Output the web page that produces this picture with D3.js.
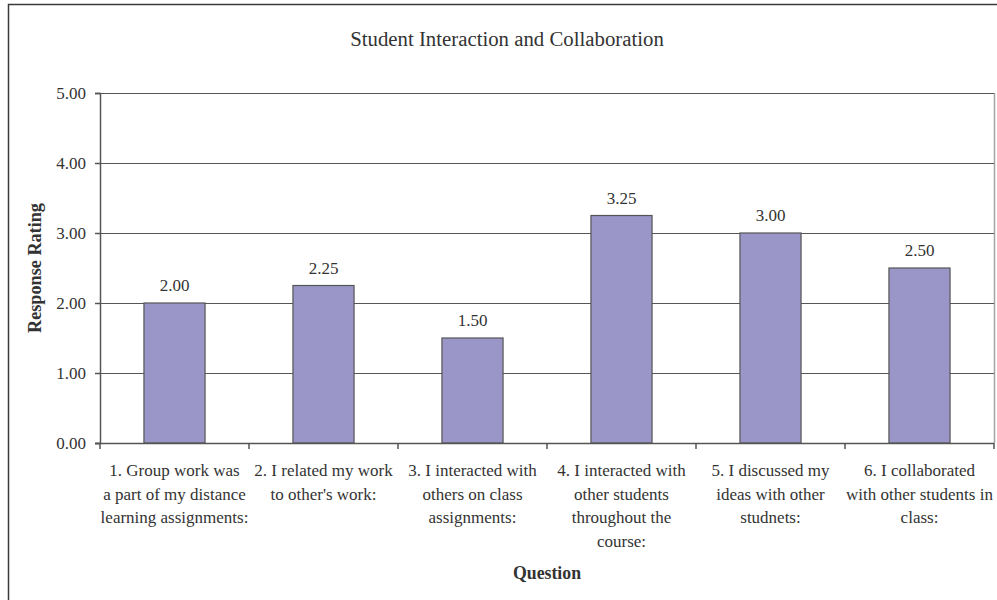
<!DOCTYPE html>
<html>
<head>
<meta charset="utf-8">
<script src="https://cdn.jsdelivr.net/npm/d3@7"></script>
<style>
  html, body { margin: 0; padding: 0; background: #fff; }
  svg { display: block; }
  text { font-family: "Liberation Serif", "Times New Roman", serif; fill: #333; }
</style>
</head>
<body>
<svg id="chart" width="997" height="600"></svg>
<script>
// Survey questions (line breaks as they wrap under the axis)
const categories = [
  "1. Group work was\na part of my distance\nlearning assignments:",
  "2. I related my work\nto other's work:",
  "3. I interacted with\nothers on class\nassignments:",
  "4. I interacted with\nother students\nthroughout the\ncourse:",
  "5. I discussed my\nideas with other\nstudnets:",
  "6. I collaborated\nwith other students in\nclass:"
];
const ratings = [2.00, 2.25, 1.50, 3.25, 3.00, 2.50];
const yTicks = [0, 1, 2, 3, 4, 5];

const title = "Student Interaction and Collaboration";
const yTitle = "Response Rating";
const xTitle = "Question";

const svg = d3.select("#chart");
const plot = { left: 100, top: 93, right: 994, bottom: 443 };

// Outer chart frame
svg.append("path")
  .attr("d", "M8.5,600 L8.5,4.5 L997,4.5")
  .attr("fill", "none").attr("stroke", "#3a3a3a").attr("stroke-width", 1.5);

const x = d3.scaleBand()
  .domain(categories)
  .range([plot.left, plot.right])
  .paddingInner(0.59).paddingOuter(0.295);

const y = d3.scaleLinear().domain([0, 5]).range([plot.bottom, plot.top]);

// Plot area border (right side)
svg.append("line")
  .attr("x1", plot.right + 0.5).attr("x2", plot.right + 0.5)
  .attr("y1", plot.top).attr("y2", plot.bottom)
  .attr("stroke", "#a8a2a2").attr("stroke-width", 1.5);

// Horizontal gridlines
svg.append("g").selectAll("line")
  .data(yTicks.filter(d => d > 0))
  .join("line")
  .attr("x1", plot.left).attr("x2", plot.right)
  .attr("y1", d => Math.round(y(d)) + 0.5).attr("y2", d => Math.round(y(d)) + 0.5)
  .attr("stroke", "#555").attr("stroke-width", 1);

// Bars
svg.append("g").selectAll("rect")
  .data(ratings)
  .join("rect")
  .attr("x", (d, i) => x(categories[i]))
  .attr("width", x.bandwidth())
  .attr("y", d => y(d))
  .attr("height", d => y(0) - y(d))
  .attr("fill", "#9b96c8")
  .attr("stroke", "#555").attr("stroke-width", 1.2);

// Value labels
svg.append("g").selectAll("text")
  .data(ratings)
  .join("text")
  .attr("x", (d, i) => x(categories[i]) + x.bandwidth() / 2)
  .attr("y", d => y(d) - 12)
  .attr("text-anchor", "middle")
  .attr("font-size", 17)
  .text(d => d.toFixed(2));

// Y axis
const yAxis = svg.append("g")
  .attr("transform", `translate(${plot.left},0)`)
  .call(d3.axisLeft(y).tickValues(yTicks).tickFormat(d3.format(".2f")).tickSize(5).tickPadding(9));
yAxis.selectAll("path, line").attr("stroke", "#555").attr("stroke-width", 1.5);
yAxis.selectAll("text").attr("font-size", 17).attr("fill", "#333");

// X axis with ticks at category boundaries
const bounds = d3.range(categories.length + 1)
  .map(i => plot.left + i * (plot.right - plot.left) / categories.length);
const xAxisG = svg.append("g");
xAxisG.append("line")
  .attr("x1", plot.left - 5).attr("x2", plot.right)
  .attr("y1", plot.bottom + 0.5).attr("y2", plot.bottom + 0.5)
  .attr("stroke", "#555").attr("stroke-width", 1.5);
xAxisG.selectAll("line.tick")
  .data(bounds)
  .join("line").attr("class", "tick")
  .attr("x1", d => d).attr("x2", d => d)
  .attr("y1", plot.bottom).attr("y2", plot.bottom + 6)
  .attr("stroke", "#555").attr("stroke-width", 1.5);

// Category labels
const catText = svg.append("g").selectAll("text")
  .data(categories)
  .join("text")
  .attr("text-anchor", "middle")
  .attr("font-size", 17)
  .attr("x", d => x(d) + x.bandwidth() / 2)
  .attr("y", 476);
catText.selectAll("tspan")
  .data(d => d.split("\n").map(t => ({ t, cx: x(d) + x.bandwidth() / 2 })))
  .join("tspan")
  .attr("x", d => d.cx)
  .attr("dy", (d, i) => i === 0 ? 0 : 23.5)
  .text(d => d.t);

// Titles
svg.append("text")
  .attr("x", 507).attr("y", 46)
  .attr("text-anchor", "middle")
  .attr("font-size", 20.8)
  .text(title);

svg.append("text")
  .attr("x", (plot.left + plot.right) / 2).attr("y", 579)
  .attr("text-anchor", "middle")
  .attr("font-size", 17.8).attr("font-weight", "bold")
  .text(xTitle);

svg.append("text")
  .attr("transform", `translate(41,${(plot.top + plot.bottom) / 2}) rotate(-90)`)
  .attr("text-anchor", "middle")
  .attr("font-size", 18.2).attr("font-weight", "bold")
  .text(yTitle);
</script>
</body>
</html>
